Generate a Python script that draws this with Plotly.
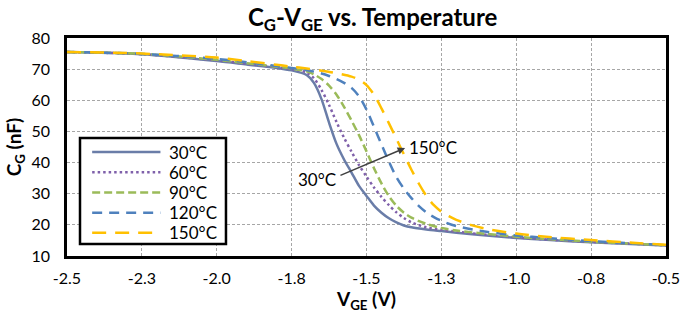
import plotly.graph_objects as go

# ---- data ----
x_30 = [-2.5, -2.25, -2.0, -1.9, -1.8, -1.75, -1.7, -1.675, -1.65, -1.625, -1.6, -1.575, -1.55, -1.525, -1.5,
        -1.475, -1.45, -1.425, -1.4, -1.375, -1.35, -1.3, -1.25, -1.2, -1.1, -1.0, -0.9, -0.75, -0.6, -0.5]
y_30 = [75.5, 74.8, 72.6, 71.5, 70.4, 69.6, 68.1, 65.5, 60.3, 52.8, 46.0, 41.0, 36.8, 32.5, 29.3,
        26.2, 23.9, 22.1, 20.8, 19.8, 19.2, 18.5, 18.0, 17.5, 16.6, 15.8, 15.2, 14.4, 13.8, 13.4]

x_60 = [-2.5, -2.25, -2.0, -1.9, -1.8, -1.75, -1.7, -1.675, -1.65, -1.625, -1.6, -1.575, -1.55, -1.525, -1.5,
        -1.475, -1.45, -1.425, -1.4, -1.375, -1.35, -1.3, -1.25, -1.2, -1.1, -1.0, -0.9, -0.75, -0.6, -0.5]
y_60 = [75.5, 74.8, 72.8, 71.7, 70.6, 70.0, 68.9, 67.0, 63.3, 58.5, 53.0, 48.0, 43.5, 39.2, 35.5,
        32.0, 29.0, 26.3, 24.0, 22.2, 20.8, 19.2, 18.4, 17.8, 16.8, 16.0, 15.3, 14.5, 13.9, 13.4]

x_90 = [-2.5, -2.25, -2.0, -1.9, -1.8, -1.75, -1.7, -1.675, -1.65, -1.625, -1.6, -1.575, -1.55, -1.525, -1.5,
        -1.475, -1.45, -1.425, -1.4, -1.375, -1.35, -1.3, -1.25, -1.2, -1.1, -1.0, -0.9, -0.75, -0.6, -0.5]
y_90 = [75.5, 74.9, 73.0, 71.9, 70.8, 70.2, 69.3, 68.3, 66.8, 64.7, 61.8, 57.9, 53.5, 48.8, 43.6,
        38.2, 33.3, 29.2, 26.1, 23.9, 22.3, 20.3, 19.0, 18.2, 17.1, 16.2, 15.5, 14.6, 13.9, 13.5]

x_120 = [-2.5, -2.25, -2.0, -1.9, -1.8, -1.75, -1.7, -1.65, -1.625, -1.6, -1.575, -1.55, -1.525, -1.5, -1.475,
         -1.45, -1.425, -1.4, -1.375, -1.35, -1.325, -1.3, -1.275, -1.25, -1.2, -1.1, -1.0, -0.9, -0.75, -0.6, -0.5]
y_120 = [75.5, 74.9, 73.3, 72.2, 71.0, 70.4, 69.7, 68.6, 67.8, 66.8, 65.6, 64.0, 61.3, 57.0, 51.5,
         45.8, 40.3, 35.3, 31.6, 28.6, 26.0, 24.0, 22.5, 21.3, 19.6, 17.8, 16.6, 15.8, 14.8, 14.0, 13.5]

x_150 = [-2.5, -2.25, -2.0, -1.9, -1.8, -1.75, -1.7, -1.65, -1.6, -1.55, -1.525, -1.5, -1.475, -1.45, -1.425,
         -1.4, -1.375, -1.35, -1.325, -1.3, -1.275, -1.25, -1.225, -1.2, -1.15, -1.1, -1.0, -0.9, -0.75, -0.6, -0.5]
y_150 = [75.5, 75.0, 73.7, 72.6, 71.4, 70.8, 70.2, 69.5, 68.7, 67.6, 66.6, 64.9, 61.8, 57.4, 52.6,
         47.6, 42.6, 37.7, 33.2, 29.3, 26.3, 24.2, 22.8, 21.6, 19.9, 18.7, 17.2, 16.2, 15.1, 14.2, 13.6]

series_names = ["30°C", "60°C", "90°C", "120°C", "150°C"]
x_tick_vals = [-2.5, -2.25, -2.0, -1.75, -1.5, -1.25, -1.0, -0.75, -0.5]
x_tick_text = ["-2.5", "-2.3", "-2.0", "-1.8", "-1.5", "-1.3", "-1.0", "-0.8", "-0.5"]
y_tick_vals = [10, 20, 30, 40, 50, 60, 70, 80]

# ---- styles ----
colors = ["#6A7DA8", "#7F60AA", "#9BBB59", "#4F81BD", "#FFC000"]
dashes = ["solid", "2.5px,3px", "8px,4px", "10px,7px", "14px,9px"]
FONT = "Lato, 'Open Sans', sans-serif"

fig = go.Figure()
for name, xs, ys, c, d in zip(series_names, [x_30, x_60, x_90, x_120, x_150],
                              [y_30, y_60, y_90, y_120, y_150], colors, dashes):
    fig.add_trace(go.Scatter(x=xs, y=ys, mode="lines", name=name, showlegend=False,
                             line=dict(color=c, width=2.5, dash=d, shape="spline", smoothing=0.8)))

axis_common = dict(showline=True, linecolor="black", linewidth=2.5, mirror=True, automargin=False,
                   showgrid=True, gridcolor="#A6A6A6", gridwidth=1, griddash="3px,2px",
                   zeroline=False, ticks="", ticklabeloverflow="allow",
                   tickfont=dict(family=FONT, size=16, color="black"))

fig.update_xaxes(range=[-2.5, -0.5], tickvals=x_tick_vals, ticktext=x_tick_text,
                 ticklabelstandoff=6,
                 title=dict(text="<b>V<sub>GE</sub> (V)</b>", font=dict(family=FONT, size=19, color="black"),
                            standoff=4),
                 **axis_common)
fig.update_yaxes(range=[10, 80], tickvals=y_tick_vals, ticklabelstandoff=11,
                 title=dict(text="<b>C<sub>G</sub> (nF)</b>", font=dict(family=FONT, size=19, color="black"),
                            standoff=5),
                 **axis_common)

# arrow from 30°C to 150°C
fig.add_annotation(x=-1.371, y=44.7, ax=-1.592, ay=35.7, xref="x", yref="y", axref="x", ayref="y",
                   text="", showarrow=True, arrowhead=2, arrowsize=1, arrowwidth=1.5, arrowcolor="#404040")
fig.add_annotation(x=-1.665, y=34.5, xref="x", yref="y", text="30°C", showarrow=False,
                   font=dict(family=FONT, size=17, color="black"))
fig.add_annotation(x=-1.366, y=44.7, xref="x", yref="y", text="150°C", showarrow=False, xanchor="left",
                   font=dict(family=FONT, size=17, color="black"))

# ---- legend box (drawn in plot-area paper coordinates) ----
leg_x0, leg_x1, leg_y0, leg_y1 = 0.0217, 0.2654, 0.055, 0.5413
fig.add_shape(type="rect", xref="paper", yref="paper", x0=leg_x0, x1=leg_x1, y0=leg_y0, y1=leg_y1,
              line=dict(color="black", width=2.5), fillcolor="white", layer="above")
row_h = 0.0927
for i, (name, c, d) in enumerate(zip(series_names, colors, dashes)):
    yy = 0.477 - i * row_h
    fig.add_shape(type="line", xref="paper", yref="paper", x0=0.042, x1=0.156, y0=yy, y1=yy,
                  line=dict(color=c, width=2.5, dash=d), layer="above")
    fig.add_annotation(x=0.167, y=yy, xref="paper", yref="paper", text=name, showarrow=False,
                       xanchor="left", yanchor="middle", font=dict(family=FONT, size=17, color="black"))

fig.update_layout(
    width=680, height=314,
    margin=dict(l=67, r=14, t=38, b=58, autoexpand=False),
    paper_bgcolor="white", plot_bgcolor="white",
    title=dict(text="<b>C<sub>G</sub>-V<sub>GE</sub> vs. Temperature</b>", x=0.548, xanchor="center",
               y=0.945, yanchor="middle", font=dict(family=FONT, size=24, color="black")),
    showlegend=False,
)

fig.write_html("out.html", config={"displayModeBar": False},
               post_script="document.body.style.margin='0';document.body.style.overflow='hidden';")
